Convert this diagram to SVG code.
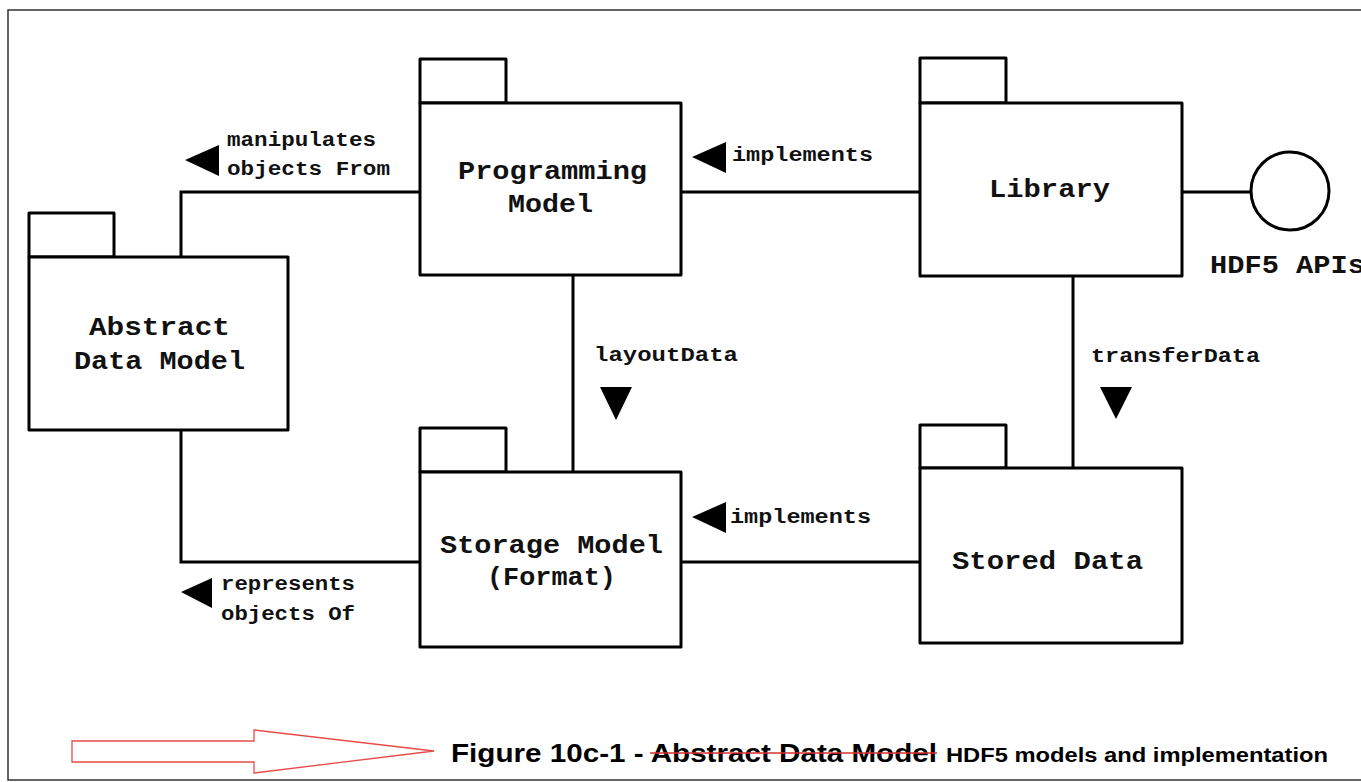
<svg xmlns="http://www.w3.org/2000/svg" width="1361" height="782" viewBox="0 0 1361 782">
<style>
.box{fill:#fff;stroke:#000;stroke-width:3;stroke-linejoin:round}
.conn{fill:none;stroke:#000;stroke-width:3}
.tri{fill:#000}
.nl{font-family:"Liberation Mono","Courier New",monospace;font-size:25px;font-weight:bold;fill:#111}
.el{font-family:"Liberation Mono","Courier New",monospace;font-size:20px;font-weight:bold;fill:#111}
.cap{font-family:"Liberation Sans",Arial,sans-serif;font-weight:bold;fill:#000}
</style>
<rect x="0" y="0" width="1361" height="782" fill="#fff"/>
<rect x="8" y="10" width="1360" height="770" fill="none" stroke="#333" stroke-width="1.5"/>
<g id="connectors">
<polyline class="conn" points="420,192 181,192 181,257"/>
<polyline class="conn" points="181,430 181,562 420,562"/>
<line class="conn" x1="681" y1="192" x2="920" y2="192"/>
<line class="conn" x1="1182" y1="192" x2="1251" y2="192"/>
<line class="conn" x1="573" y1="275" x2="573" y2="472"/>
<line class="conn" x1="1073" y1="276" x2="1073" y2="468"/>
<line class="conn" x1="681" y1="562" x2="920" y2="562"/>
<polygon class="tri" points="185,160 219,145 219,176"/>
<polygon class="tri" points="692,157 726,142 726,173"/>
<polygon class="tri" points="600,387 632,387 616,420"/>
<polygon class="tri" points="1100,387 1132,387 1116,419"/>
<polygon class="tri" points="692,517 726,502 726,533"/>
<polygon class="tri" points="181,592 212,578 212,608"/>
<text class="el" x="227" y="146" textLength="149" lengthAdjust="spacingAndGlyphs">manipulates</text>
<text class="el" x="227" y="175" textLength="163" lengthAdjust="spacingAndGlyphs">objects From</text>
<text class="el" x="732" y="161" textLength="141" lengthAdjust="spacingAndGlyphs">implements</text>
<text class="el" x="594" y="361" textLength="144" lengthAdjust="spacingAndGlyphs">layoutData</text>
<text class="el" x="1091" y="362" textLength="169" lengthAdjust="spacingAndGlyphs">transferData</text>
<text class="el" x="730" y="523" textLength="141" lengthAdjust="spacingAndGlyphs">implements</text>
<text class="el" x="221" y="590" textLength="134" lengthAdjust="spacingAndGlyphs">represents</text>
<text class="el" x="221" y="620" textLength="134" lengthAdjust="spacingAndGlyphs">objects Of</text>
</g>
<g id="abstract-data-model">
<rect class="box" x="29" y="213" width="85" height="44"/>
<rect class="box" x="29" y="257" width="259" height="173"/>
<text class="nl" x="89" y="335" textLength="141" lengthAdjust="spacingAndGlyphs">Abstract</text>
<text class="nl" x="74" y="369" textLength="171" lengthAdjust="spacingAndGlyphs">Data Model</text>
</g>
<g id="programming-model">
<rect class="box" x="420" y="59" width="86" height="44"/>
<rect class="box" x="420" y="103" width="261" height="172"/>
<text class="nl" x="458" y="179" textLength="189" lengthAdjust="spacingAndGlyphs">Programming</text>
<text class="nl" x="508" y="212" textLength="85" lengthAdjust="spacingAndGlyphs">Model</text>
</g>
<g id="library">
<rect class="box" x="920" y="58" width="86" height="45"/>
<rect class="box" x="920" y="103" width="262" height="173"/>
<text class="nl" x="989" y="197" textLength="121" lengthAdjust="spacingAndGlyphs">Library</text>
</g>
<g id="hdf5-apis">
<circle cx="1290" cy="191" r="39" fill="#fff" stroke="#000" stroke-width="3"/>
<text class="nl" x="1210" y="273" textLength="155" lengthAdjust="spacingAndGlyphs">HDF5 APIs</text>
</g>
<g id="storage-model">
<rect class="box" x="420" y="428" width="86" height="44"/>
<rect class="box" x="420" y="472" width="261" height="175"/>
<text class="nl" x="440" y="553" textLength="223" lengthAdjust="spacingAndGlyphs">Storage Model</text>
<text class="nl" x="487" y="585" textLength="129" lengthAdjust="spacingAndGlyphs">(Format)</text>
</g>
<g id="stored-data">
<rect class="box" x="920" y="425" width="86" height="43"/>
<rect class="box" x="920" y="468" width="262" height="175"/>
<text class="nl" x="952" y="569" textLength="191" lengthAdjust="spacingAndGlyphs">Stored Data</text>
</g>
<g id="caption">
<polygon points="72,741 254,741 254,730 434,751 254,773 254,762 72,762" fill="#fff" stroke="#e84a4a" stroke-width="1.3"/>
<text class="cap" x="451" y="762" font-size="25" textLength="486" lengthAdjust="spacingAndGlyphs">Figure 10c-1 - Abstract Data Model</text>
<line x1="650" y1="753" x2="937" y2="753" stroke="#d83030" stroke-width="1.5"/>
<text class="cap" x="946" y="762" font-size="20" textLength="382" lengthAdjust="spacingAndGlyphs">HDF5 models and implementation</text>
</g>
</svg>
